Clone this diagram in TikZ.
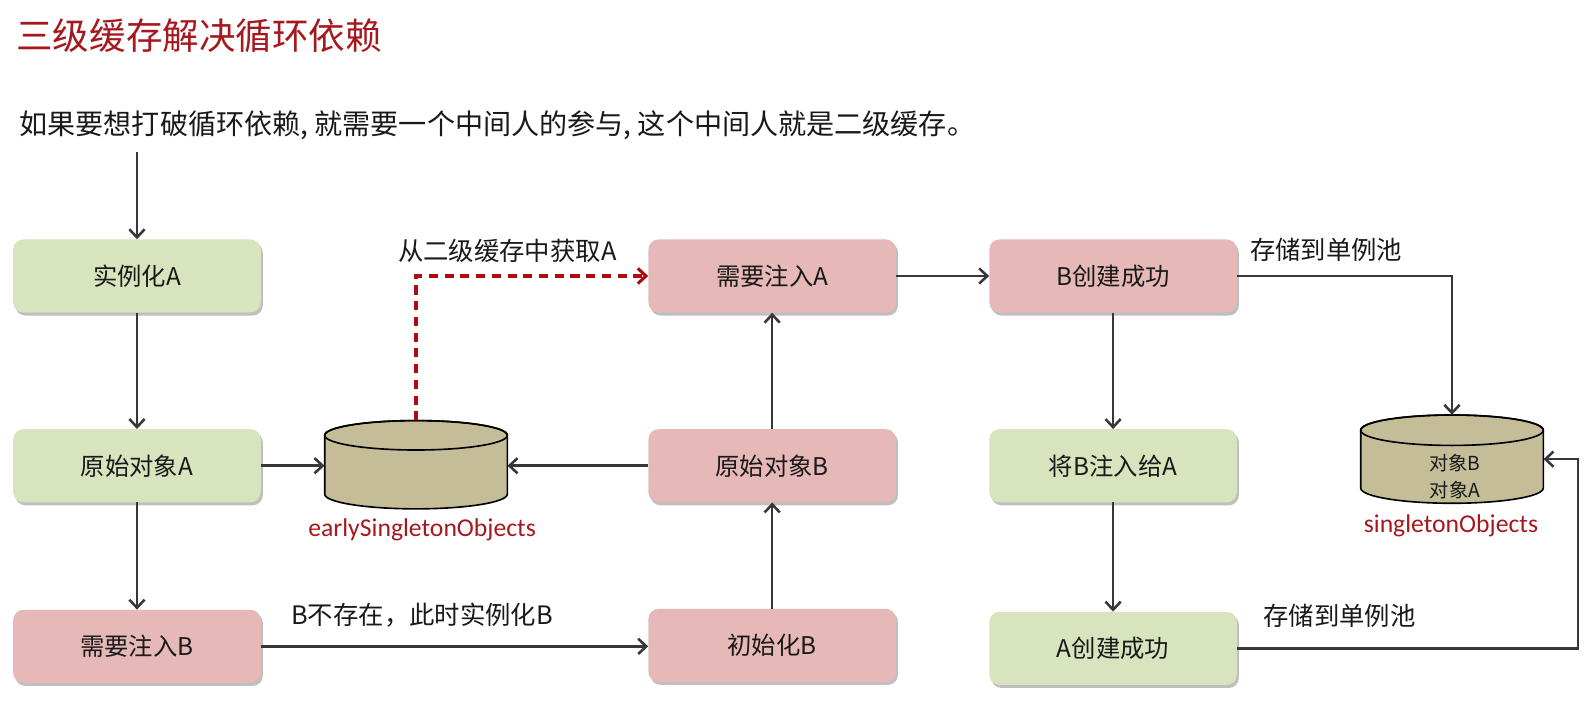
\documentclass[tikz,border=0pt]{standalone}
\usepackage{fontspec}
\setmainfont{Noto Sans CJK SC}
\newfontfamily\lat{Carlito}
\usetikzlibrary{arrows.meta,shadows}
\definecolor{gbox}{RGB}{215,228,189}
\definecolor{pbox}{RGB}{230,185,184}
\definecolor{cyl}{RGB}{196,189,151}
\definecolor{darkred}{RGB}{165,25,30}
\definecolor{dashred}{RGB}{175,10,15}
\definecolor{arr}{RGB}{55,55,55}
\definecolor{txt}{RGB}{25,25,25}
\tikzset{
  boxbase/.style={rounded corners=10pt, minimum width=244pt, minimum height=72pt, inner sep=0pt,
    font=\fontsize{24}{28}\selectfont, text=txt,
    drop shadow={shadow xshift=2pt, shadow yshift=-3pt, opacity=0.25, fill=black}},
  gnode/.style={boxbase, fill=gbox},
  pnode/.style={boxbase, fill=pbox},
  conn/.style={draw=arr, line width=2.5pt, -{Straight Barb[length=8pt,width=15pt,line width=2.5pt]}},
  dconn/.style={draw=dashred, line width=3pt, dash pattern=on 9pt off 6.5pt, -{Straight Barb[length=8pt,width=15pt,line width=3pt]}},
  lbl/.style={font=\fontsize{25}{29}\selectfont, text=txt, inner sep=0pt},
  cyllbl/.style={font=\lat\fontsize{25.3}{29}\selectfont, text=darkred, inner sep=0pt},
  anchorbox/.style={inner sep=0pt, minimum width=#1, minimum height=87pt}
}
\begin{document}
\begin{tikzpicture}[x=1pt,y=-1pt]
\useasboundingbox (0,0) rectangle (1568,708);
\fill[white] (0,0) rectangle (1568,708);

% title and subtitle
\node[anchor=west, inner sep=0pt, text=darkred, font=\fontsize{36}{42}\selectfont] (title) at (16,35) {三级缓存解决循环依赖};
\node[anchor=west, inner sep=0pt, text=txt, font=\fontsize{27.7}{33}\selectfont] (sub) at (19,123) {如果要想打破循环依赖, 就需要一个中间人的参与, 这个中间人就是二级缓存。};

% boxes
\node[gnode] (sa) at (135,272) {实例化A};
\node[gnode] (oa) at (135,459) {原始对象A};
\node[pnode] (nb) at (135,637) {需要注入B};
\node[pnode] (na) at (761,272) {需要注入A};
\node[pnode] (ob) at (761,459) {原始对象B};
\node[pnode] (ib) at (761,636) {初始化B};
\node[pnode] (bc) at (1097,272) {B创建成功};
\node[gnode] (ba) at (1097,459) {将B注入给A};
\node[gnode] (ac) at (1097,639) {A创建成功};

% early cylinder
\filldraw[fill=cyl, draw=black, line width=1.6pt]
  (320,429) -- (320,487) arc[start angle=180, end angle=360, x radius=90pt, y radius=14.5pt]
  -- (500,429) arc[start angle=0, end angle=180, x radius=90pt, y radius=14.5pt] -- cycle;
\draw[black, line width=1.6pt] (410,429) ellipse[x radius=90pt, y radius=14.5pt];
\node[anchorbox=180pt] (early) at (410,458) {};
\node[cyllbl] (earlylbl) at (416,522) {earlySingletonObjects};

% singleton cylinder
\filldraw[fill=cyl, draw=black, line width=1.6pt]
  (1341,424) -- (1341,481) arc[start angle=180, end angle=360, x radius=90pt, y radius=15pt]
  -- (1521,424) arc[start angle=0, end angle=180, x radius=90pt, y radius=15pt] -- cycle;
\draw[black, line width=1.6pt] (1431,424) ellipse[x radius=90pt, y radius=15pt];
\node[anchorbox=180pt] (single) at (1431,452.5) {};
\node[inner sep=0pt, text=txt, font=\fontsize{19}{27}\selectfont, align=center] (singletxt) at (1434,469.5) {对象B\\对象A};
\node[cyllbl] (singlelbl) at (1430,518) {singletonObjects};

% labels
\node[lbl] (l1) at (500,247) {从二级缓存中获取A};
\node[lbl] (l2) at (416,606) {B不存在，此时实例化B};
\node[lbl] (l3) at (1307,246) {存储到单例池};
\node[lbl] (l4) at (1320,607) {存储到单例池};

% connectors
\coordinate (start) at (135,150);
\draw[conn] (start) -- (sa.north);
\draw[conn] (sa.south) -- (oa.north);
\draw[conn] (oa.south) -- (nb.north);
\draw[conn] (oa.east) -- (oa.east -| early.west);
\draw[conn] (ob.west) -- (ob.west -| early.east);
\draw[conn] (nb.east) -- (nb.east -| ib.west);
\draw[conn] (ib.north) -- (ob.south);
\draw[conn] (ob.north) -- (na.south);
\draw[dconn] (early.north) |- (na.west);
\draw[conn] (na.east) -- (bc.west);
\draw[conn] (bc.south) -- (ba.north);
\draw[conn] (ba.south) -- (ac.north);
\draw[conn] (bc.east) -| (single.north);
\coordinate (rt) at (1555,639);
\draw[conn] (ac.east) -- (rt) |- (single.east);
\end{tikzpicture}
\end{document}
